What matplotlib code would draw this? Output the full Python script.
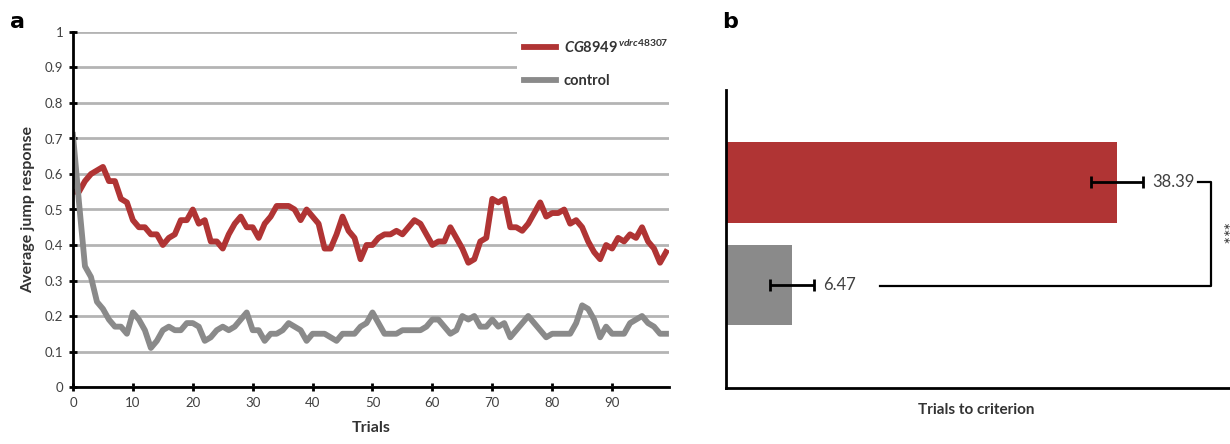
import numpy as np
import matplotlib
matplotlib.use("Agg")
import matplotlib.pyplot as plt

plt.rcParams['font.family'] = ['Lato', 'DejaVu Sans']
plt.rcParams['mathtext.fontset'] = 'custom'
plt.rcParams['mathtext.it'] = 'Lato:italic:bold'
plt.rcParams['mathtext.rm'] = 'Lato:bold'

# panel a: average jump response per trial
mutant = [0.55, 0.55, 0.58, 0.60, 0.61, 0.62, 0.58, 0.58, 0.53, 0.52,
          0.47, 0.45, 0.45, 0.43, 0.43, 0.40, 0.42, 0.43, 0.47, 0.47,
          0.50, 0.46, 0.47, 0.41, 0.41, 0.39, 0.43, 0.46, 0.48, 0.45,
          0.45, 0.42, 0.46, 0.48, 0.51, 0.51, 0.51, 0.50, 0.47, 0.50,
          0.48, 0.46, 0.39, 0.39, 0.43, 0.48, 0.44, 0.42, 0.36, 0.40,
          0.40, 0.42, 0.43, 0.43, 0.44, 0.43, 0.45, 0.47, 0.46, 0.43,
          0.40, 0.41, 0.41, 0.45, 0.42, 0.39, 0.35, 0.36, 0.41, 0.42,
          0.53, 0.52, 0.53, 0.45, 0.45, 0.44, 0.46, 0.49, 0.52, 0.48,
          0.49, 0.49, 0.50, 0.46, 0.47, 0.45, 0.41, 0.38, 0.36, 0.40,
          0.39, 0.42, 0.41, 0.43, 0.42, 0.45, 0.41, 0.39, 0.35, 0.38]
control = [0.71, 0.52, 0.34, 0.31, 0.24, 0.22, 0.19, 0.17, 0.17, 0.15,
           0.21, 0.19, 0.16, 0.11, 0.13, 0.16, 0.17, 0.16, 0.16, 0.18,
           0.18, 0.17, 0.13, 0.14, 0.16, 0.17, 0.16, 0.17, 0.19, 0.21,
           0.16, 0.16, 0.13, 0.15, 0.15, 0.16, 0.18, 0.17, 0.16, 0.13,
           0.15, 0.15, 0.15, 0.14, 0.13, 0.15, 0.15, 0.15, 0.17, 0.18,
           0.21, 0.18, 0.15, 0.15, 0.15, 0.16, 0.16, 0.16, 0.16, 0.17,
           0.19, 0.19, 0.17, 0.15, 0.16, 0.20, 0.19, 0.20, 0.17, 0.17,
           0.19, 0.17, 0.18, 0.14, 0.16, 0.18, 0.20, 0.18, 0.16, 0.14,
           0.15, 0.15, 0.15, 0.15, 0.18, 0.23, 0.22, 0.19, 0.14, 0.17,
           0.15, 0.15, 0.15, 0.18, 0.19, 0.20, 0.18, 0.17, 0.15, 0.15]
trials = np.arange(len(mutant))

# panel b: trials to criterion
groups = ['control', 'CG8949']
means = [6.47, 38.39]
errors = [2.2, 2.55]

RED = '#b03434'
GRAY = '#8a8a8a'
TXT = '#404040'

fig = plt.figure(figsize=(12.3, 4.44), dpi=100)

# ---- panel a
ax = fig.add_axes([73 / 1230, 57 / 444, 596 / 1230, 355 / 444])
ax.set_axisbelow(True)
ax.yaxis.grid(True, color='#b4b4b4', lw=2)
ax.plot(trials, mutant, color=RED, lw=4.2, solid_joinstyle='round',
        label=r'$\mathit{CG8949}^{\,\mathit{vdrc48307}}$')
ax.plot(trials, control, color=GRAY, lw=4.2, solid_joinstyle='round',
        label='control')
ax.set_xlim(0, 99.5)
ax.set_ylim(0, 1)
ax.set_xticks(np.arange(0, 100, 10))
ax.set_yticks(np.arange(0, 1.01, 0.1))
ax.set_yticklabels(['0'] + ['%.1f' % v for v in np.arange(0.1, 0.95, 0.1)] + ['1'])
for s in ['top', 'right']:
    ax.spines[s].set_visible(False)
for s in ['left', 'bottom']:
    ax.spines[s].set_linewidth(2)
ax.tick_params(direction='inout', length=6, width=2, labelsize=9.5,
               labelcolor=TXT, pad=4)
ax.set_ylabel('Average jump response', fontsize=11.5, fontweight='bold',
              color='#333333', labelpad=7)
ax.set_xlabel('Trials', fontsize=11.5, fontweight='bold', color='#333333',
              labelpad=9)
leg = ax.legend(loc='upper left', bbox_to_anchor=(0.745, 1.003), frameon=True,
                facecolor='white', edgecolor='none', framealpha=1,
                handlelength=2.2, handletextpad=0.5, labelspacing=1.25,
                borderpad=0.5, borderaxespad=0,
                prop={'weight': 'bold', 'size': 10.5})
for t in leg.get_texts():
    t.set_color('#333333')
leg.get_frame().set_boxstyle('square', pad=0)

fig.text(10 / 1230, 1 - 22 / 444, 'a', fontsize=16, fontweight='bold',
         va='center', family='DejaVu Sans')
fig.text(722 / 1230, 1 - 22 / 444, 'b', fontsize=16, fontweight='bold',
         va='center', family='DejaVu Sans')

# ---- panel b
bx = fig.add_axes([726 / 1230, 56 / 444, 520 / 1230, 298 / 444])
ypos = [1.0, 2.0]
bx.barh(ypos, means, height=0.78, color=[GRAY, RED])
bx.errorbar(means, ypos, xerr=errors, fmt='none', ecolor='black',
            elinewidth=2, capsize=4, capthick=2)
for m, e, y in zip(means, errors, ypos):
    bx.text(m + e + 0.9, y, '%.2f' % m, fontsize=12, color=TXT,
            va='center', ha='left')
# significance bracket
bx.plot([46.3, 47.6, 47.6, 15.1], [2.0, 2.0, 0.99, 0.99], color='black',
        lw=1.6)
bx.text(48.4, 1.5, '***', rotation=270, fontsize=13, ha='center',
        va='center', color='#333333')
bx.set_xlim(0, 51)
bx.set_ylim(0, 2.9)
bx.set_xticks([])
bx.set_yticks([])
for s in ['top', 'right']:
    bx.spines[s].set_visible(False)
for s in ['left', 'bottom']:
    bx.spines[s].set_linewidth(2)
fig.text(976 / 1230, 1 - 410 / 444, 'Trials to criterion', fontsize=11,
         fontweight='bold', color='#333333', ha='center', va='center')

fig.savefig('out.png', dpi=100)
